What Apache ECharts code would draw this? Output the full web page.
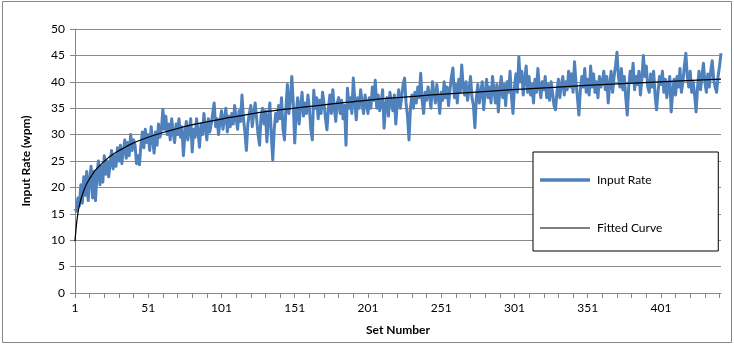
<!DOCTYPE html>
<html>
<head>
<meta charset="utf-8">
<script src="https://cdn.jsdelivr.net/npm/echarts@6/dist/echarts.min.js"></script>
<style>
  html, body { margin: 0; padding: 0; background: #fff; }
  #chart { width: 734px; height: 345px; }
</style>
</head>
<body>
<div id="chart"></div>
<script>
// Input rate per set (wpm), sets 1..442
const inputRate = [
  16, 15.5, 18, 16.5, 20.5, 17, 22, 18.5, 23, 17.5,
  21.5, 24, 18, 23, 17.5, 22.5, 25, 20.5, 24, 21,
  26, 22.5, 25, 22, 24.5, 27, 23.5, 26, 24, 27.5,
  25, 28, 24.5, 27, 29, 25.5, 28.5, 26, 30, 27,
  29, 28, 24.5, 26, 24.3, 28, 30.5, 27.5, 31, 28.5,
  30, 27, 31.5, 29, 26.5, 30.5, 28, 32, 29.5, 31,
  34.8, 31, 33.5, 30, 32, 29, 33, 30.5, 28.5, 32,
  30, 33, 29.5, 31.5, 26, 30, 32.5, 29, 31, 33,
  26.7, 31, 29.5, 33, 30.5, 27.6, 32, 30, 34, 31,
  29, 33, 30.5, 32, 34, 36, 31.5, 33, 30, 32.5,
  34.5, 31, 33, 35, 30.5, 33.5, 31.5, 34, 32, 35.5,
  33, 31, 34.5, 32.5, 37.5, 33, 30.5, 27, 32, 34,
  35.5, 31.5, 34, 36, 33, 30, 28, 33.5, 35, 32,
  34.5, 28.6, 33, 36, 30, 25.2, 31, 34, 32.5, 35.5,
  33, 37, 31, 29, 35, 39.5, 34, 36.5, 41, 36,
  28.4, 34, 37, 32, 35.5, 38, 33.5, 36, 34, 37.5,
  35, 31, 29, 38.4, 35, 37, 33, 36.5, 34, 38,
  36, 33, 30.9, 35, 37.5, 34, 38.5, 35, 32.5, 36,
  37, 34, 36.5, 33, 35.5, 28, 38.8, 35, 37, 34,
  40.7, 36.5, 32.8, 37, 35, 38.5, 36, 34, 37.5, 36,
  34, 37, 35, 39, 36.5, 40.3, 35, 37.5, 34.5, 36,
  38.5, 31.2, 35.5, 37, 33.5, 38, 36, 34.5, 37.5, 32,
  36, 38.5, 35, 37, 39.5, 40.7, 36, 33.5, 29, 35,
  37.5, 35, 38, 36, 39, 37, 41.6, 36.5, 34, 38,
  36.5, 39, 37.5, 35, 40, 38, 36, 39.5, 37, 34,
  38, 36.5, 40, 37, 39, 35.5, 38.5, 41, 42.6, 37,
  39.5, 36, 40.5, 38, 43.2, 39, 37.5, 40, 36.5, 38.5,
  41, 37, 35.5, 31.3, 37, 39.5, 36, 38, 40, 34.7,
  38, 40.5, 37, 39, 36, 41, 38.5, 36, 39.5, 34.3,
  38.5, 41, 37, 39.5, 35.5, 40, 38, 42, 37, 34,
  39, 41.5, 38, 44.7, 40, 42, 37.5, 40.5, 43, 38,
  41, 37.5, 39.5, 36, 40.5, 38, 42.5, 39, 37, 40,
  38.5, 41, 37, 39.5, 36.5, 40, 38, 35.5, 34.7, 38,
  40.5, 37, 39.5, 41, 37.5, 40, 38.5, 42, 39, 41.5,
  38, 43.8, 40, 37, 33.7, 38.5, 41, 39, 42.5, 38,
  40.5, 37.5, 43, 39, 41.5, 38, 40, 37, 41, 39,
  40, 42, 38.5, 41, 36, 39.5, 42, 38, 41, 43,
  45.6, 41, 39, 42.5, 38.5, 41, 37, 33.7, 39, 42,
  40, 43.5, 38.5, 41, 39.5, 42, 37.5, 40.5, 45, 41,
  43, 39, 38, 41.5, 39, 42, 37.5, 34.7, 38, 41,
  39.5, 42, 38, 40.5, 37, 39, 41, 34.3, 38, 40.5,
  37.5, 41, 39, 42.5, 38, 40, 43, 45.4, 41, 39,
  42, 38, 40, 37.5, 34.3, 39, 42, 38.5, 41, 43.5,
  40, 38, 41.5, 39, 42, 44, 40.5, 39, 38, 41,
  43, 45.4
];

// Set numbers used as category labels
const setNumbers = inputRate.map((_, i) => String(i + 1));

// Fitted curve: set number / wpm pairs along the trend line
const fitSets   = [1, 2, 3, 4, 5, 6, 8, 10, 12, 15, 20, 25, 30, 40, 50, 60, 80, 100, 130, 160, 200, 250, 300, 350, 400, 442];
const fitValues = [9.8, 13, 15.1, 16.6, 17.7, 18.6, 20.1, 21.2, 22.1, 23.3, 24.7, 25.9, 26.8, 28.3, 29.4, 30.3, 31.8, 32.9, 34.3, 35.3, 36.5, 37.6, 38.5, 39.3, 40.0, 40.5];

// Y axis range and step
const yMin = 0, yMax = 50, yStep = 5;

const FONT = 'Lato, "Open Sans", sans-serif';
const AXIS_GRAY = '#868686';

const chart = echarts.init(document.getElementById('chart'), null, { renderer: 'canvas' });

chart.setOption({
  backgroundColor: '#fff',
  animation: false,
  textStyle: { fontFamily: FONT },
  graphic: [{
    type: 'rect',
    shape: { x: 2.5, y: 1.5, width: 729, height: 341 },
    style: { fill: 'none', stroke: AXIS_GRAY, lineWidth: 1 },
    silent: true,
    z: -10
  }],
  grid: { left: 75, right: 13, top: 29, bottom: 52, containLabel: false },
  legend: {
    orient: 'vertical',
    left: 533,
    top: 152,
    padding: [22, 56, 17, 7],
    itemGap: 36,
    itemWidth: 50,
    itemHeight: 14,
    borderColor: '#000',
    borderWidth: 1,
    backgroundColor: '#fff',
    textStyle: { fontFamily: FONT, fontSize: 12, color: '#000', padding: [0, 0, 0, 2] },
    data: [
      { name: 'Input Rate', icon: 'path://M0,5.5 L50,5.5 L50,9 L0,9 Z' },
      { name: 'Fitted Curve', icon: 'path://M0,7 L50,7 L50,8.2 L0,8.2 Z' }
    ]
  },
  xAxis: [{
    type: 'category',
    data: setNumbers,
    boundaryGap: false,
    name: 'Set Number',
    nameLocation: 'middle',
    nameGap: 31,
    nameTextStyle: { fontFamily: FONT, fontSize: 12, fontWeight: 'bold', color: '#000' },
    axisLine: { lineStyle: { color: AXIS_GRAY, width: 1 } },
    axisTick: { show: true, interval: 9, length: 5, lineStyle: { color: AXIS_GRAY } },
    axisLabel: { interval: 49, fontFamily: FONT, fontSize: 12, color: '#000', margin: 9 },
    splitLine: { show: false }
  }, {
    type: 'value',
    min: 1,
    max: inputRate.length,
    show: false
  }],
  yAxis: {
    type: 'value',
    min: yMin,
    max: yMax,
    interval: yStep,
    name: 'Input Rate (wpm)',
    nameLocation: 'middle',
    nameGap: 43,
    nameTextStyle: { fontFamily: FONT, fontSize: 12, fontWeight: 'bold', color: '#000' },
    axisLine: { show: true, lineStyle: { color: AXIS_GRAY, width: 1 } },
    axisTick: { show: true, length: 5, lineStyle: { color: AXIS_GRAY } },
    axisLabel: { fontFamily: FONT, fontSize: 12, color: '#000', margin: 10 },
    splitLine: { show: true, lineStyle: { color: '#8c8c8c', width: 1 } }
  },
  series: [{
    name: 'Input Rate',
    type: 'line',
    xAxisIndex: 0,
    data: inputRate,
    symbol: 'none',
    itemStyle: { color: '#4F81BD' },
    lineStyle: { color: '#4F81BD', width: 3, join: 'round' },
    z: 2
  }, {
    name: 'Fitted Curve',
    type: 'line',
    xAxisIndex: 1,
    data: fitSets.map((s, i) => [s, fitValues[i]]),
    symbol: 'none',
    smooth: 0.3,
    itemStyle: { color: '#000' },
    lineStyle: { color: '#000', width: 1.25 },
    z: 3
  }]
});
</script>
</body>
</html>
